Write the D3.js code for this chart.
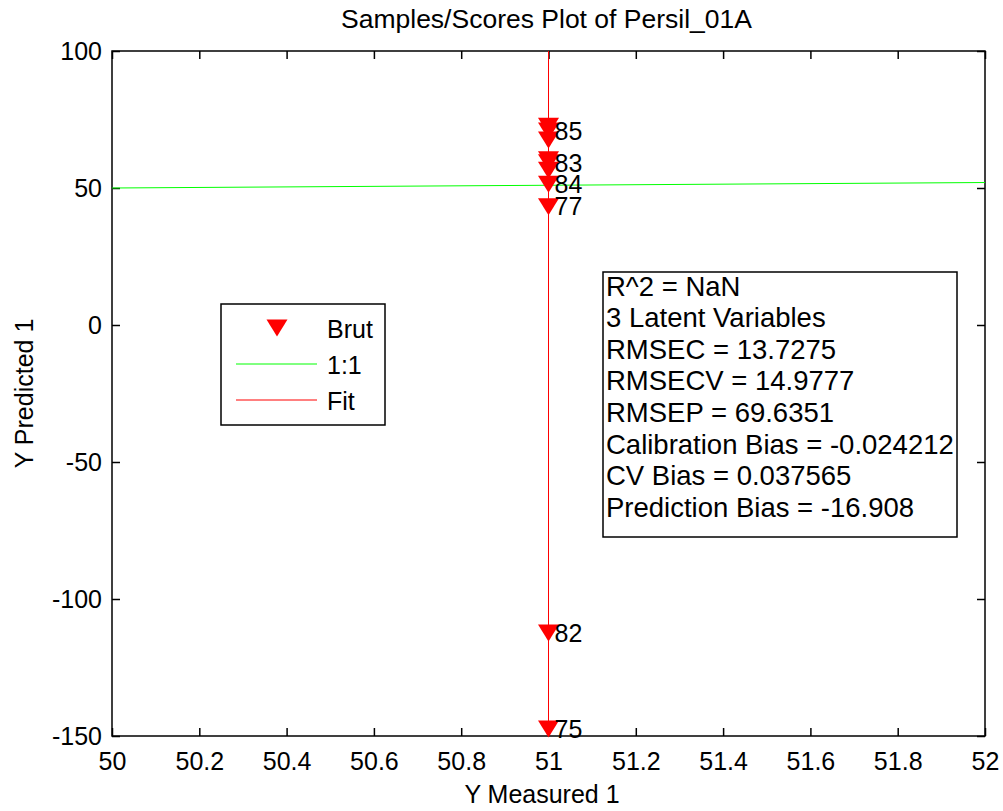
<!DOCTYPE html>
<meta charset="utf-8">

<!-- Load d3.js -->
<script src="https://d3js.org/d3.v7.min.js"></script>

<style>
  body { margin: 0; background: #fff; }
  text { font-family: "Liberation Sans", Arial, sans-serif; fill: #000; }
</style>

<div id="divsvg"></div>

<script>

// values
var sampleLabels = ["", "85", "", "", "83", "", "84", "77", "82", "75"];
var yMeasured = [51, 51, 51, 51, 51, 51, 51, 51, 51, 51];
var yPredicted = [72.5, 70.8, 67.5, 60.3, 59.2, 56.5, 51.4, 43.2, -112.4, -147.4];

var xTicks = [50, 50.2, 50.4, 50.6, 50.8, 51, 51.2, 51.4, 51.6, 51.8, 52];
var yTicks = [-150, -100, -50, 0, 50, 100];

var oneToOne = [[50, 50], [52, 52]];
var fitLine = [[51, -150], [51, 100]];

var legendNames = ["Brut", "1:1", "Fit"];
var statsLines = [
  "R^2 = NaN",
  "3 Latent Variables",
  "RMSEC = 13.7275",
  "RMSECV = 14.9777",
  "RMSEP = 69.6351",
  "Calibration Bias = -0.024212",
  "CV Bias = 0.037565",
  "Prediction Bias = -16.908"
];

// set the dimensions and margins of the graph
var margin = {top: 51, right: 18, bottom: 75, left: 112},
    width = 1003 - margin.left - margin.right,
    height = 811 - margin.top - margin.bottom;

var root = d3.select("#divsvg")
  .append("svg")
    .attr("width", 1003)
    .attr("height", 811);

var svg = root.append("g")
    .attr("transform", "translate(" + margin.left + "," + margin.top + ")");

var x = d3.scaleLinear().domain([50, 52]).range([0, width]);
var y = d3.scaleLinear().domain([-150, 100]).range([height, 0]);

// plain hyphen for negatives, like the original
var fmt = function(d) { return String(d); };

// axes, ticks pointing inward on all four sides
svg.append("g")
    .attr("transform", "translate(0," + height + ")")
    .call(d3.axisBottom(x).tickValues(xTicks).tickSizeInner(-8).tickSizeOuter(0).tickPadding(16).tickFormat(fmt));
svg.append("g")
    .call(d3.axisTop(x).tickValues(xTicks).tickSizeInner(-8).tickSizeOuter(0).tickFormat(""));
svg.append("g")
    .call(d3.axisLeft(y).tickValues(yTicks).tickSizeInner(-8).tickSizeOuter(0).tickPadding(10).tickFormat(fmt));
svg.append("g")
    .attr("transform", "translate(" + width + ",0)")
    .call(d3.axisRight(y).tickValues(yTicks).tickSizeInner(-8).tickSizeOuter(0).tickFormat(""));

svg.selectAll(".domain").remove();
svg.selectAll(".tick line").attr("stroke", "#000").attr("stroke-width", 1.5);
svg.selectAll(".tick text").style("font-size", "25px").attr("fill", "#000");

svg.append("rect")
    .attr("width", width)
    .attr("height", height)
    .attr("fill", "none")
    .attr("stroke", "#000")
    .attr("stroke-width", 1.5);

var line = d3.line()
    .x(function(d) { return x(d[0]); })
    .y(function(d) { return y(d[1]); });

svg.append("path").datum(oneToOne)
    .attr("d", line).attr("stroke", "#00ff00").attr("stroke-width", 1).attr("fill", "none");
svg.append("path").datum(fitLine)
    .attr("d", line).attr("stroke", "#ff0000").attr("stroke-width", 1).attr("fill", "none");

var tri = "M-10.5,-8.5L10.5,-8.5L0,8.5Z";

var pts = yPredicted.map(function(v, i) { return {x: yMeasured[i], y: v, label: sampleLabels[i]}; });

svg.selectAll(".pt")
  .data(pts)
  .enter()
  .append("path")
    .attr("class", "pt")
    .attr("d", tri)
    .attr("transform", function(d) { return "translate(" + x(d.x) + "," + y(d.y) + ")"; })
    .attr("fill", "#ff0000");

svg.selectAll(".lbl")
  .data(pts.filter(function(d) { return d.label !== ""; }))
  .enter()
  .append("text")
    .attr("class", "lbl")
    .attr("x", function(d) { return x(d.x) + 6; })
    .attr("y", function(d) { return y(d.y); })
    .attr("dy", "0.35em")
    .style("font-size", "25px")
    .text(function(d) { return d.label; });

// title and axis labels
root.append("text")
    .attr("x", margin.left + width / 2 - 2)
    .attr("y", 28)
    .attr("text-anchor", "middle")
    .style("font-size", "26.5px")
    .text("Samples/Scores Plot of Persil_01A");

root.append("text")
    .attr("x", 542)
    .attr("y", 803)
    .attr("text-anchor", "middle")
    .style("font-size", "25px")
    .text("Y Measured 1");

root.append("text")
    .attr("transform", "translate(33," + (margin.top + height / 2) + ") rotate(-90)")
    .attr("text-anchor", "middle")
    .style("font-size", "25px")
    .text("Y Predicted 1");

// legend
var legend = root.append("g").attr("transform", "translate(221,304)");
legend.append("rect")
    .attr("width", 164).attr("height", 121)
    .attr("fill", "#fff").attr("stroke", "#000").attr("stroke-width", 1.5);
legend.append("path").attr("d", tri).attr("transform", "translate(56,24)").attr("fill", "#ff0000");
legend.append("line").attr("x1", 15).attr("x2", 96).attr("y1", 60).attr("y2", 60)
    .attr("stroke", "#00ff00").attr("stroke-width", 1);
legend.append("line").attr("x1", 15).attr("x2", 96).attr("y1", 96).attr("y2", 96)
    .attr("stroke", "#ff0000").attr("stroke-width", 1);
legend.selectAll("text")
  .data(legendNames)
  .enter()
  .append("text")
    .attr("x", 106)
    .attr("y", function(d, i) { return 25 + i * 36; })
    .attr("dy", "0.35em")
    .style("font-size", "25px")
    .text(function(d) { return d; });

// stats box
var stats = root.append("g").attr("transform", "translate(603,272)");
stats.append("rect")
    .attr("width", 354).attr("height", 265)
    .attr("fill", "#fff").attr("stroke", "#000").attr("stroke-width", 1.5);
stats.selectAll("text")
  .data(statsLines)
  .enter()
  .append("text")
    .attr("x", 3)
    .attr("y", function(d, i) { return 14 + i * 31.6; })
    .attr("dy", "0.35em")
    .style("font-size", "27.5px")
    .text(function(d) { return d; });

</script>
